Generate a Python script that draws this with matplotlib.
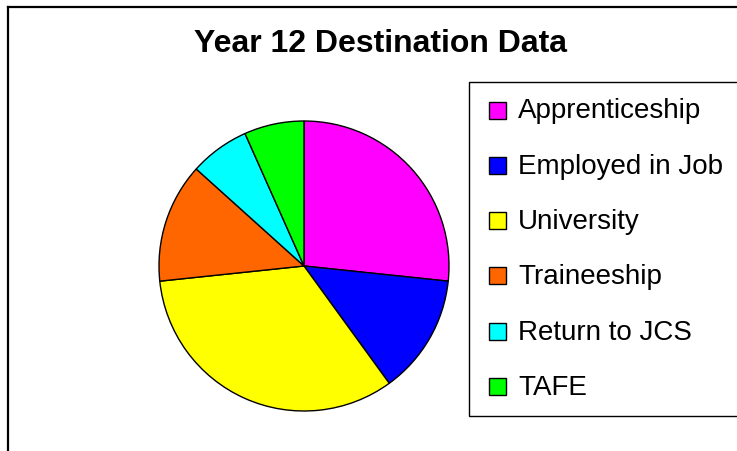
import matplotlib
matplotlib.use("Agg")
import matplotlib.pyplot as plt
from matplotlib.patches import Rectangle
from matplotlib.lines import Line2D

categories = ["Apprenticeship", "Employed in Job", "University", "Traineeship", "Return to JCS", "TAFE"]
values = [4, 2, 5, 2, 1, 1]
colors = ["#FF00FF", "#0000FF", "#FFFF00", "#FF6600", "#00FFFF", "#00FF00"]
title = "Year 12 Destination Data"

W, H = 737, 452
fig = plt.figure(figsize=(W / 100, H / 100), dpi=100)
plt.rcParams['font.family'] = ['Liberation Sans', 'DejaVu Sans']

def fx(px):
    return px / W

def fy(py):
    return 1 - py / H

# outer chart border (left and top visible)
fig.add_artist(Line2D([fx(7.5), fx(7.5)], [fy(7.5), fy(460)], color="black", lw=1.6, transform=fig.transFigure))
fig.add_artist(Line2D([fx(7.5), fx(745)], [fy(7.5), fy(7.5)], color="black", lw=1.6, transform=fig.transFigure))

# title
fig.text(fx(380), fy(52), title, ha="center", va="baseline", fontsize=23, fontweight="bold")

# pie
cx, cy, r = 304, 267, 145
ax = fig.add_axes([fx(cx - r), fy(cy + r), 2 * r / W, 2 * r / H])
ax.pie(values, colors=colors, startangle=90, counterclock=False,
       wedgeprops=dict(edgecolor="black", linewidth=1.0))
ax.set_xlim(-1, 1)
ax.set_ylim(-1, 1)
ax.set_aspect("equal")
ax.axis("off")

# legend (manual)
lx0, ly0, ly1 = 468.5, 82.5, 416.5
fig.add_artist(Rectangle((fx(lx0), fy(ly1)), fx(760) - fx(lx0), fy(ly0) - fy(ly1),
                         transform=fig.transFigure, facecolor="white", edgecolor="black", lw=1.0))
row0, step = 111, 55.3
for i, (lab, col) in enumerate(zip(categories, colors)):
    yc = row0 + i * step
    fig.add_artist(Rectangle((fx(488.5), fy(yc + 8.5)), fx(17), 17 / H,
                             transform=fig.transFigure, facecolor=col, edgecolor="black", lw=1.0))
    fig.text(fx(518), fy(yc + 7.5), lab, ha="left", va="baseline", fontsize=20)

fig.savefig("out.png", dpi=100)
